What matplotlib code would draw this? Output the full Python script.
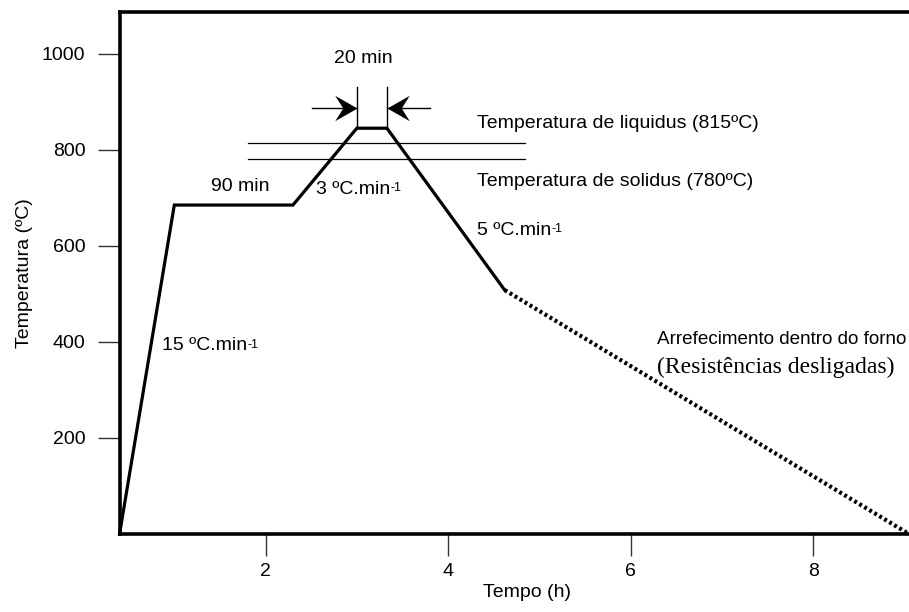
import matplotlib
matplotlib.use("Agg")
import matplotlib.pyplot as plt
from matplotlib.path import Path

# Heat-treatment schedule (time in h, temperature in ºC)
ramp_time = [0.40, 1.00, 2.30, 3.00, 3.33, 4.62]
ramp_temp = [0, 685, 685, 845, 845, 508]
furnace_time = [4.62, 9.05]
furnace_temp = [508, 0]

liquidus = 815
solidus = 780

x_ticks = [2, 4, 6, 8]
y_ticks = [200, 400, 600, 800, 1000]

plt.rcParams['font.family'] = ['Liberation Sans', 'DejaVu Sans']

fig = plt.figure(figsize=(9.09, 6.12), dpi=100)
ax = fig.add_axes([120 / 909, 1 - 534 / 612, 789 / 909, 522 / 612])

ax.plot(ramp_time, ramp_temp, color='black', lw=2.3, solid_joinstyle='miter', clip_on=False)
ax.plot(furnace_time, furnace_temp, color='black', lw=3, linestyle=(0, (0.7, 0.7)))

# liquidus / solidus reference lines
ax.plot([1.81, 4.84], [liquidus, liquidus], color='black', lw=0.9)
ax.plot([1.81, 4.84], [solidus, solidus], color='black', lw=0.9)

# 20 min hold marker: two guide lines and inward arrows with swept heads
hold_start, hold_end = ramp_time[3], ramp_time[4]
ax.plot([hold_start, hold_start], [ramp_temp[3], 930], color='black', lw=1)
ax.plot([hold_end, hold_end], [ramp_temp[4], 930], color='black', lw=1)

head = [(0, 0), (-1, 0.57), (-0.64, 0), (-1, -0.57), (0, 0)]
codes = [Path.MOVETO, Path.LINETO, Path.LINETO, Path.LINETO, Path.CLOSEPOLY]
head_right = Path(head, codes)
head_left = Path([(-x, y) for x, y in head], codes)

arrow_y = 887
ax.plot([2.51, hold_start], [arrow_y, arrow_y], color='black', lw=1)
ax.plot([hold_end, 3.80], [arrow_y, arrow_y], color='black', lw=1)
ax.plot([hold_start], [arrow_y], marker=head_right, markersize=32, color='black', mew=0)
ax.plot([hold_end], [arrow_y], marker=head_left, markersize=32, color='black', mew=0)

fs = 14


def rate_label(x, y, text):
    # rate text with a small "-1" exponent after it
    t = ax.text(x, y, text, fontsize=fs, va='center')
    ax.annotate('-1', xy=(1.0, 0.92), xycoords=t, fontsize=9, ha='left', va='top')


ax.text(3.07, 990, '20 min', fontsize=fs, ha='center', va='center')
ax.text(4.32, 855, 'Temperatura de liquidus (815ºC)', fontsize=fs, va='center')
ax.text(4.32, 735, 'Temperatura de solidus (780ºC)', fontsize=fs, va='center')
ax.text(1.72, 723, '90 min', fontsize=fs, ha='center', va='center')
rate_label(2.55, 718, '3 ºC.min')
rate_label(4.32, 633, '5 ºC.min')
rate_label(0.87, 392, '15 ºC.min')
ax.text(9.02, 404, 'Arrefecimento dentro do forno', fontsize=13.6, ha='right', va='center')
ax.text(6.29, 347, '(Resistências desligadas)', fontsize=17, va='center',
        family='Liberation Serif')

ax.set_xlim(0.405, 9.05)
ax.set_ylim(0, 1087)
ax.set_xticks(x_ticks)
ax.set_yticks(y_ticks)
ax.tick_params(axis='both', direction='out', length=16, width=1, color='#333333',
               labelsize=fs)
ax.tick_params(axis='y', pad=9)
ax.tick_params(axis='x', pad=5)

for side in ['left', 'bottom', 'top']:
    ax.spines[side].set_linewidth(2.6)
ax.spines['right'].set_visible(False)

ax.set_xlabel('Tempo (h)', fontsize=fs)
ax.xaxis.set_label_coords((527 - 120) / 789, -0.095)
ax.set_ylabel('Temperatura (ºC)', fontsize=fs, labelpad=6)

fig.savefig('out.png', dpi=100)
